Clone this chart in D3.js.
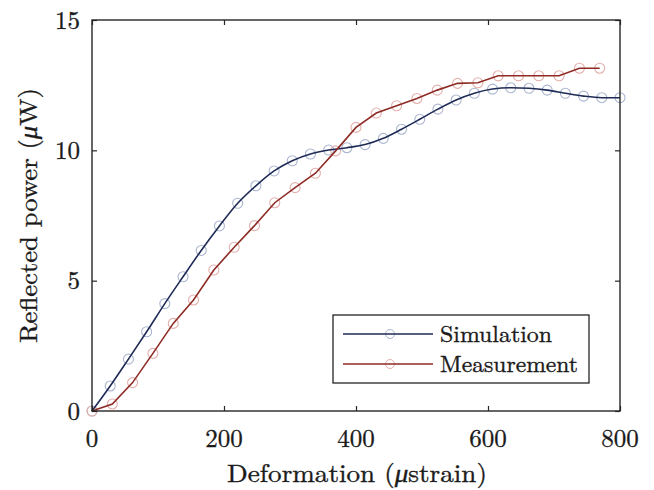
<!DOCTYPE html>
<html>
<head>
<meta charset="utf-8">
<script src="https://cdn.jsdelivr.net/npm/d3@7"></script>
<style>
  html, body { margin: 0; padding: 0; background: #fff; }
  svg { display: block; }
</style>
</head>
<body>
<svg id="chart" width="654" height="490"></svg>
<script>
// ---- data ----
const xTicks = [0, 200, 400, 600, 800];
const yTicks = [0, 5, 10, 15];
const seriesNames = ["Simulation", "Measurement"];

// Simulation: 30 samples evenly spaced over 0..800 µstrain
const simX = [0, 27.6, 55.2, 82.8, 110.3, 137.9, 165.5, 193.1, 220.7, 248.3,
              275.9, 303.4, 331.0, 358.6, 386.2, 413.8, 441.4, 469.0, 496.6, 524.1,
              551.7, 579.3, 606.9, 634.5, 662.1, 689.7, 717.2, 744.8, 772.4, 800];
const simY = [0, 0.96, 1.99, 3.04, 4.12, 5.15, 6.16, 7.10, 7.97, 8.64,
              9.21, 9.60, 9.86, 10.01, 10.10, 10.22, 10.46, 10.81, 11.19, 11.58,
              11.93, 12.19, 12.35, 12.40, 12.38, 12.31, 12.19, 12.08, 12.02, 12.02];

// Measurement: 26 samples evenly spaced over 0..769 µstrain
const measX = [0, 30.8, 61.5, 92.3, 123.1, 153.8, 184.6, 215.4, 246.2, 276.9,
               307.7, 338.5, 369.2, 400.0, 430.8, 461.5, 492.3, 523.1, 553.8, 584.6,
               615.4, 646.2, 676.9, 707.7, 738.5, 769.2];
const measY = [0, 0.27, 1.09, 2.21, 3.36, 4.26, 5.41, 6.28, 7.11, 7.99,
               8.57, 9.12, 9.98, 10.88, 11.43, 11.71, 11.99, 12.31, 12.57, 12.59,
               12.86, 12.86, 12.86, 12.86, 13.15, 13.15];

// ---- layout ----
const svg = d3.select("#chart");
const FF = "'Latin Modern Roman', 'Liberation Serif', monospace";
const L = 92, R = 620, T = 20, B = 411;
const x = d3.scaleLinear().domain([0, 800]).range([L, R]);
const y = d3.scaleLinear().domain([0, 15]).range([B, T]);

const FONT = 25;
const txtCol = "#1a1a1a";
const simLine = "#1f2b57", simMark = "#aab5cf";
const measLine = "#8e2b25", measMark = "#e2b0ad";
const axisCol = "#262626";

const sim = simX.map((v, i) => [v, simY[i]]);
const meas = measX.map((v, i) => [v, measY[i]]);

function txt(sel) {
  return sel.style("font-family", FF).attr("fill", txtCol)
    .attr("stroke", txtCol).attr("stroke-width", 0.35);
}

// markers (under lines)
svg.append("g").selectAll("circle").data(sim).join("circle")
  .attr("cx", d => x(d[0])).attr("cy", d => y(d[1])).attr("r", 5)
  .attr("fill", "none").attr("stroke", simMark).attr("stroke-width", 1.1);
svg.append("g").selectAll("circle").data(meas).join("circle")
  .attr("cx", d => x(d[0])).attr("cy", d => y(d[1])).attr("r", 5)
  .attr("fill", "none").attr("stroke", measMark).attr("stroke-width", 1.1);

// lines
svg.append("path").datum(sim)
  .attr("d", d3.line().x(d => x(d[0])).y(d => y(d[1])).curve(d3.curveMonotoneX))
  .attr("fill", "none").attr("stroke", simLine).attr("stroke-width", 1.6);
svg.append("path").datum(meas)
  .attr("d", d3.line().x(d => x(d[0])).y(d => y(d[1])))
  .attr("fill", "none").attr("stroke", measLine).attr("stroke-width", 1.6);

// axes (ticks inward, on all four sides)
const tl = 5;
svg.append("g").attr("transform", `translate(0,${B})`)
  .call(d3.axisBottom(x).tickValues(xTicks).tickSize(-tl).tickFormat(""))
  .call(g => g.select(".domain").remove());
svg.append("g").attr("transform", `translate(0,${T})`)
  .call(d3.axisTop(x).tickValues(xTicks).tickSize(-tl).tickFormat(""))
  .call(g => g.select(".domain").remove());
svg.append("g").attr("transform", `translate(${L},0)`)
  .call(d3.axisLeft(y).tickValues(yTicks).tickSize(-tl).tickFormat(""))
  .call(g => g.select(".domain").remove());
svg.append("g").attr("transform", `translate(${R},0)`)
  .call(d3.axisRight(y).tickValues(yTicks).tickSize(-tl).tickFormat(""))
  .call(g => g.select(".domain").remove());
svg.selectAll(".tick line").attr("stroke", axisCol).attr("stroke-width", 1.2);

svg.append("rect").attr("x", L).attr("y", T).attr("width", R - L).attr("height", B - T)
  .attr("fill", "none").attr("stroke", axisCol).attr("stroke-width", 1.4);

// tick labels
svg.append("g").selectAll("text").data(xTicks).join("text")
  .attr("x", d => x(d)).attr("y", 447).attr("text-anchor", "middle")
  .attr("font-size", FONT).call(txt).text(d => d);
svg.append("g").selectAll("text").data(yTicks).join("text")
  .attr("x", 80).attr("y", d => y(d) + 8.5).attr("text-anchor", "end")
  .attr("font-size", FONT).call(txt).text(d => d);

// axis titles (μ set in italic, as in LaTeX math)
const xt = svg.append("text").attr("x", 357).attr("y", 482).attr("text-anchor", "middle")
  .attr("font-size", FONT).call(txt)
  .attr("textLength", 260).attr("lengthAdjust", "spacingAndGlyphs");
xt.append("tspan").text("Deformation (");
xt.append("tspan").style("font-style", "italic").text("μ");
xt.append("tspan").text("strain)");

const yt = svg.append("text").attr("transform", `translate(37,${(T + B) / 2}) rotate(-90)`)
  .attr("text-anchor", "middle").attr("font-size", FONT).call(txt)
  .attr("textLength", 255).attr("lengthAdjust", "spacingAndGlyphs");
yt.append("tspan").text("Reflected power (");
yt.append("tspan").style("font-style", "italic").text("μ");
yt.append("tspan").text("W)");

// legend
const lg = svg.append("g");
lg.append("rect").attr("x", 333).attr("y", 315).attr("width", 256).attr("height", 68)
  .attr("fill", "#fff").attr("stroke", axisCol).attr("stroke-width", 1.3);
const legendRows = [
  { name: seriesNames[0], line: simLine, mark: simMark, y: 334, w: 112 },
  { name: seriesNames[1], line: measLine, mark: measMark, y: 364, w: 138 }
];
legendRows.forEach(r => {
  lg.append("circle").attr("cx", 390).attr("cy", r.y).attr("r", 4.5)
    .attr("fill", "none").attr("stroke", r.mark).attr("stroke-width", 1);
  lg.append("line").attr("x1", 343).attr("x2", 433).attr("y1", r.y).attr("y2", r.y)
    .attr("stroke", r.line).attr("stroke-width", 1.6);
  lg.append("text").attr("x", 440).attr("y", r.y + 7.5).attr("font-size", 23)
    .call(txt).attr("textLength", r.w).attr("lengthAdjust", "spacingAndGlyphs").text(r.name);
});
</script>
</body>
</html>
